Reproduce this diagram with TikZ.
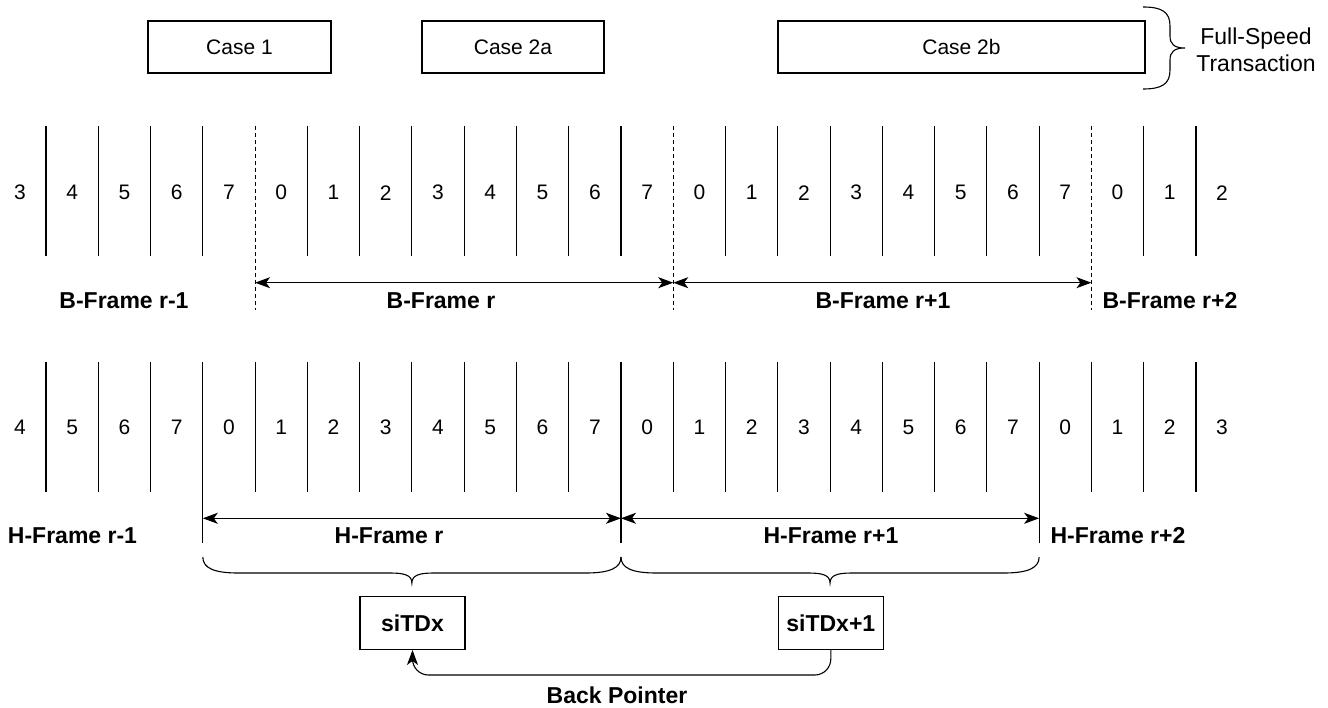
\documentclass[tikz,border=0pt]{standalone}
\usepackage{fontspec}
\setmainfont{Liberation Sans}
\usetikzlibrary{arrows.meta}
\begin{document}
\begin{tikzpicture}[x=1pt,y=-1pt,
  lbl/.style={font=\fontsize{21}{25}\selectfont, inner sep=0pt},
  blbl/.style={font=\fontsize{23}{27}\selectfont\bfseries, inner sep=0pt},
  casebox/.style={draw, line width=1.2pt, minimum height=52pt, font=\fontsize{21}{25}\selectfont, inner sep=0pt},
  tdbox/.style={draw, line width=1.2pt, minimum width=105pt, minimum height=52.7pt, font=\fontsize{23}{27}\selectfont\bfseries, inner sep=0pt},
  tick/.style={line width=1.1pt},
  dashtick/.style={line width=1.1pt, dash pattern=on 4pt off 3pt},
  tip/.style={},
  span/.style={line width=1.1pt, {Stealth[length=15pt,width=11pt,inset=4pt]}-{Stealth[length=15pt,width=11pt,inset=4pt]}},
  bracepath/.style={line width=1.1pt},
  ]
\useasboundingbox (0,0) rectangle (1328,708);

% top boxes
\node[casebox, minimum width=183pt] (c1) at (239.5,47) {Case 1};
\node[casebox, minimum width=182pt] (c2a) at (513,47) {Case 2a};
\node[casebox, minimum width=367pt] (c2b) at (961.5,47) {Case 2b};

% top brace
\draw[bracepath] (1143,7) .. controls (1162,7) and (1170,12) .. (1170,26) -- (1170,36)
  .. controls (1170,44) and (1174,48) .. (1185,48)
  .. controls (1174,48) and (1170,52) .. (1170,60) -- (1170,70)
  .. controls (1170,84) and (1162,89) .. (1143,89);
\node[font=\fontsize{23}{27}\selectfont, align=center, inner sep=0pt] (fs) at (1256,50) {Full-Speed\\Transaction};

% B row
\foreach \k in {0,...,22}{
  \pgfmathsetmacro{\xx}{46+52.27*\k}
  \ifnum\k=4 \draw[dashtick] (\xx,126) -- (\xx,310);
  \else\ifnum\k=12 \draw[dashtick] (\xx,126) -- (\xx,310);
  \else\ifnum\k=20 \draw[dashtick] (\xx,126) -- (\xx,310);
  \else \draw[tick] (\xx,126) -- (\xx,256);
  \fi\fi\fi
}
\foreach \d [count=\i from 0] in {3,4,5,6,7,0,1,2,3,4,5,6,7,0,1,2,3,4,5,6,7,0,1,2}
  \node[lbl] (b\i) at ({46+52.27*(\i-0.5)},192.7) {\d};

\coordinate (bB1) at (255.08,282.7);
\coordinate (bB2) at (673.24,282.7);
\coordinate (bB3) at (1091.4,282.7);
\draw[span] (bB1) -- (bB2);
\draw[span] (bB2) -- (bB3);

\node[blbl] (bfrm1) at (124,300.7) {B-Frame r-1};
\node[blbl] (bfr) at (441,300.7) {B-Frame r};
\node[blbl] (bfrp1) at (883,300.7) {B-Frame r+1};
\node[blbl] (bfrp2) at (1170,300.7) {B-Frame r+2};

% H row
\foreach \k in {0,...,22}{
  \pgfmathsetmacro{\xx}{46+52.27*\k}
  \ifnum\k=3 \draw[tick] (\xx,362) -- (\xx,543.3);
  \else\ifnum\k=11 \draw[tick] (\xx,362) -- (\xx,543.3);
  \else\ifnum\k=19 \draw[tick] (\xx,362) -- (\xx,543.3);
  \else \draw[tick] (\xx,362) -- (\xx,491.7);
  \fi\fi\fi
}
\foreach \d [count=\i from 0] in {4,5,6,7,0,1,2,3,4,5,6,7,0,1,2,3,4,5,6,7,0,1,2,3}
  \node[lbl] (h\i) at ({46+52.27*(\i-0.5)},427.3) {\d};

\coordinate (hB1) at (202.81,518.3);
\coordinate (hB2) at (620.97,518.3);
\coordinate (hB3) at (1039.13,518.3);
\draw[span] (hB1) -- (hB2);
\draw[span] (hB2) -- (hB3);

\node[blbl] (hfrm1) at (72.5,536) {H-Frame r-1};
\node[blbl] (hfr) at (389,536) {H-Frame r};
\node[blbl] (hfrp1) at (831,536) {H-Frame r+1};
\node[blbl] (hfrp2) at (1118,536) {H-Frame r+2};

% bottom braces
\draw[bracepath] (202.81,557) .. controls (202.81,568) and (214,573) .. (238,573) -- (390,573)
  .. controls (404,573) and (411.9,575) .. (411.9,583)
  .. controls (411.9,575) and (419.8,573) .. (433.8,573) -- (585.8,573)
  .. controls (609.8,573) and (620.97,568) .. (620.97,557);
\draw[bracepath] (620.97,557) .. controls (620.97,568) and (632.2,573) .. (656.2,573) -- (808.2,573)
  .. controls (822.2,573) and (830.05,575) .. (830.05,583)
  .. controls (830.05,575) and (837.9,573) .. (851.9,573) -- (1003.9,573)
  .. controls (1027.9,573) and (1039.13,568) .. (1039.13,557);

% siTD boxes
\node[tdbox] (s1) at (412.5,623) {siTDx};
\node[tdbox] (s2) at (830.8,623) {siTDx+1};
\coordinate (bpy) at (0,675);
\draw[line width=1.1pt, rounded corners=16pt, -{Stealth[length=15pt,width=11pt,inset=4pt]}]
  (s2.south) |- (s1.south |- bpy) -- (s1.south);
\node[blbl] (bp) at (617,695) {Back Pointer};
\end{tikzpicture}
\end{document}
